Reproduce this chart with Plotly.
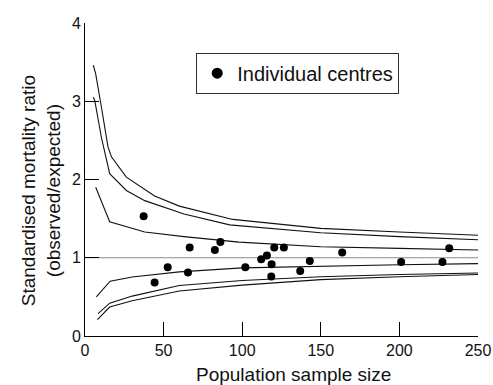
import plotly.graph_objects as go

# Individual centres: population sample size vs SMR
centre_n = [37.3, 44.3, 52.6, 66.6, 65.5, 82.6, 86.1, 102.0, 112.1, 115.7, 120.4, 126.5,
            118.7, 118.5, 136.9, 143.0, 163.6, 201.1, 227.4, 231.7]
centre_smr = [1.53, 0.685, 0.878, 1.13, 0.81, 1.10, 1.20, 0.88, 0.98, 1.03, 1.13, 1.13,
              0.916, 0.76, 0.83, 0.96, 1.066, 0.946, 0.946, 1.12]

# Control limits
upper_outer_x = [5.3, 6.8, 10.4, 14.6, 16.8, 26.3, 44.3, 60, 94, 150, 200, 250]
upper_outer_y = [3.46, 3.35, 2.93, 2.42, 2.29, 2.03, 1.79, 1.66, 1.49, 1.375, 1.33, 1.287]

upper_mid_x = [5.3, 6.2, 10.4, 15.7, 26.3, 38, 63, 92, 150, 200, 250]
upper_mid_y = [3.05, 3.01, 2.54, 2.075, 1.86, 1.73, 1.56, 1.42, 1.32, 1.27, 1.23]

upper_inner_x = [6.8, 15.7, 38, 63, 98, 150, 200, 250]
upper_inner_y = [1.90, 1.46, 1.33, 1.27, 1.20, 1.14, 1.12, 1.10]

lower_inner_x = [7.2, 16, 30, 60, 100, 150, 200, 250]
lower_inner_y = [0.50, 0.70, 0.755, 0.82, 0.87, 0.893, 0.91, 0.925]

lower_mid_x = [8.3, 15.7, 30, 60, 100, 150, 200, 250]
lower_mid_y = [0.286, 0.42, 0.51, 0.645, 0.71, 0.757, 0.785, 0.805]

lower_outer_x = [7.9, 15.7, 30, 60, 100, 150, 200, 250]
lower_outer_y = [0.21, 0.37, 0.45, 0.575, 0.65, 0.72, 0.757, 0.785]

ref_x = [0, 250]
ref_y = [1, 1]

x_ticks = [0, 50, 100, 150, 200, 250]
y_ticks = [0, 1, 2, 3, 4]

FONT = "Liberation Sans, Arial, Helvetica, sans-serif"

fig = go.Figure()

fig.add_trace(go.Scatter(x=ref_x, y=ref_y, mode="lines",
                         line=dict(color="#8a8a8a", width=1.2),
                         showlegend=False, hoverinfo="skip"))

for lx, ly in [(upper_outer_x, upper_outer_y), (upper_mid_x, upper_mid_y),
               (upper_inner_x, upper_inner_y), (lower_inner_x, lower_inner_y),
               (lower_mid_x, lower_mid_y), (lower_outer_x, lower_outer_y)]:
    fig.add_trace(go.Scatter(x=lx, y=ly, mode="lines",
                             line=dict(color="#111111", width=1.1),
                             showlegend=False))

fig.add_trace(go.Scatter(x=centre_n, y=centre_smr, mode="markers",
                         marker=dict(color="black", size=8),
                         name="Individual centres", showlegend=False))
# legend entry (larger symbol as in the original)
fig.add_trace(go.Scatter(x=[None], y=[None], mode="markers",
                         marker=dict(color="black", size=11),
                         name="Individual centres", showlegend=True))

fig.update_layout(
    width=493, height=385,
    margin=dict(l=85, r=15, t=23, b=49),
    paper_bgcolor="white", plot_bgcolor="white",
    font=dict(family=FONT, color="#111111"),
    showlegend=True,
    legend=dict(x=0.283, y=0.905, xanchor="left", yanchor="top",
                bordercolor="#333333", borderwidth=1, bgcolor="white",
                font=dict(size=20, family=FONT), itemwidth=30,
                tracegroupgap=0),
    xaxis=dict(range=[0, 250], tickvals=x_ticks, ticks="inside", ticklen=14,
               tickcolor="black", tickwidth=1, showline=True, linecolor="black",
               linewidth=1, showgrid=False, zeroline=False, automargin=False,
               tickfont=dict(size=16, family=FONT)),
    yaxis=dict(range=[0, 4], tickvals=y_ticks, ticks="inside", ticklen=14,
               tickcolor="black", tickwidth=1, showline=True, linecolor="black",
               linewidth=1, showgrid=False, zeroline=False, automargin=False,
               tickfont=dict(size=16, family=FONT)),
    annotations=[
        dict(text="Population sample size", xref="paper", yref="paper",
             x=0.531, y=-0.122, xanchor="center", yanchor="middle",
             showarrow=False, font=dict(size=19, family=FONT)),
        dict(text="Standardised mortality ratio<br>(observed/expected)",
             xref="paper", yref="paper", x=-0.11, y=0.465,
             xanchor="center", yanchor="middle", textangle=-90,
             showarrow=False, font=dict(size=19, family=FONT)),
    ],
)

fig.write_html("out.html")
